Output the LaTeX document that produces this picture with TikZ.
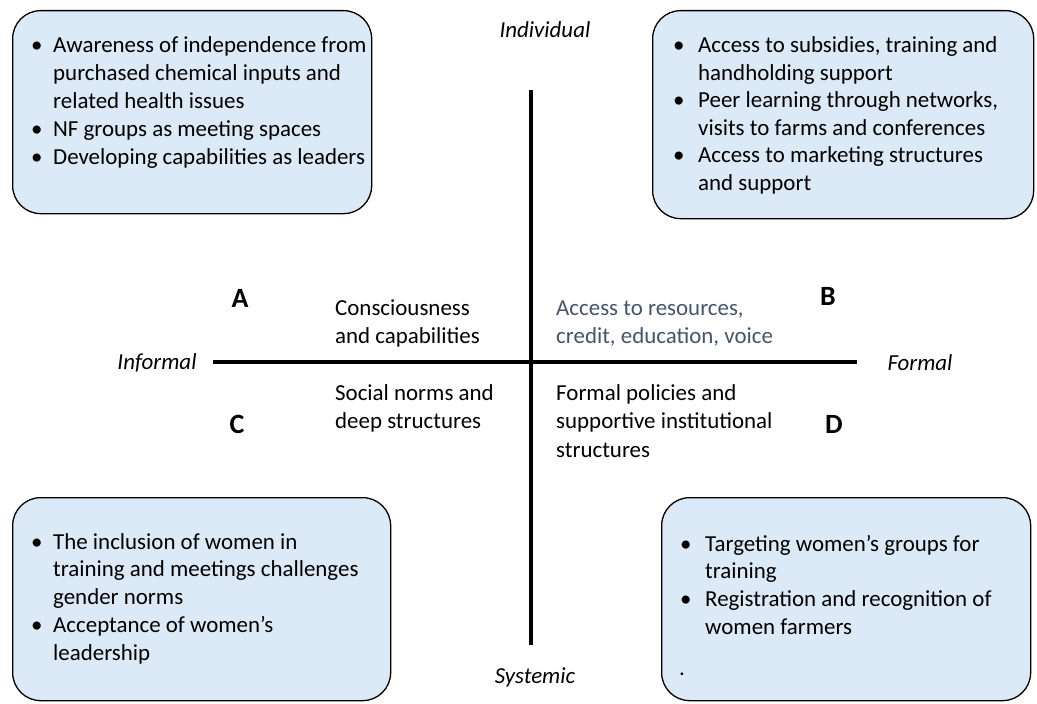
\documentclass[tikz,border=0pt]{standalone}
\usepackage{fontspec}
\setmainfont{Carlito}
\definecolor{boxfill}{HTML}{DCE9F6}
\definecolor{txtblue}{HTML}{44546A}
\newlength\bulw
\newcommand\bl[1]{\makebox[\bulw][l]{•}#1}
\newcommand\cl[1]{\hspace*{\bulw}#1}
\begin{document}
\begin{tikzpicture}[x=1bp,y=-1bp,
  box/.style={draw=black, line width=1.3bp, fill=boxfill, rounded corners=28bp, inner sep=0pt},
  txt/.style={inner sep=0pt, anchor=base west, font=\fontsize{23}{28}\selectfont},
  txtb/.style={inner sep=0pt, anchor=base west, font=\fontsize{23}{27.6}\selectfont},
  mid/.style={inner sep=0pt, anchor=base west, font=\fontsize{23}{29}\selectfont},
  axis/.style={line width=3.5bp},
  axlabel/.style={inner sep=0pt, font=\fontsize{23}{28}\selectfont\itshape},
  quad/.style={inner sep=0pt, font=\fontsize{28}{34}\selectfont\bfseries}]
\useasboundingbox (0,0) rectangle (1037,704);
% boxes
\node[box, minimum width=359bp, minimum height=203bp, anchor=north west] (boxA) at (12,10) {};
\node[box, minimum width=381bp, minimum height=208bp, anchor=north west] (boxB) at (652,10) {};
\node[box, minimum width=378bp, minimum height=203bp, anchor=north west] (boxC) at (12,497) {};
\node[box, minimum width=369bp, minimum height=203bp, anchor=north west] (boxD) at (661,497) {};
% box texts
\node[txt] (tA) at (31,53) {\setlength\bulw{22bp}\begin{tabular}[t]{@{}l@{}}
\bl{Awareness of independence from}\\
\cl{purchased chemical inputs and}\\
\cl{related health issues}\\
\bl{NF groups as meeting spaces}\\
\bl{Developing capabilities as leaders}\end{tabular}};
\node[txtb] (tB) at (673,53) {\setlength\bulw{25bp}\begin{tabular}[t]{@{}l@{}}
\bl{Access to subsidies, training and}\\
\cl{handholding support}\\
\bl{Peer learning through networks,}\\
\cl{visits to farms and conferences}\\
\bl{Access to marketing structures}\\
\cl{and support}\end{tabular}};
\node[txt] (tC) at (31,549) {\setlength\bulw{22bp}\begin{tabular}[t]{@{}l@{}}
\bl{The inclusion of women in}\\
\cl{training and meetings challenges}\\
\cl{gender norms}\\
\bl{Acceptance of women’s}\\
\cl{leadership}\end{tabular}};
\node[txt] (tD) at (680,551) {\setlength\bulw{25bp}\begin{tabular}[t]{@{}l@{}}
\bl{Targeting women’s groups for}\\
\cl{training}\\
\bl{Registration and recognition of}\\
\cl{women farmers}\end{tabular}};
\node[txt] (tDdot) at (679,675) {.};
% axes
\coordinate (vtop) at (531,90);
\coordinate (vbot) at (531,645);
\coordinate (hleft) at (213,362);
\coordinate (hright) at (857,362);
\draw[axis] (vtop) -- (vbot);
\draw[axis] (hleft) -- (hright);
% axis labels
\node[axlabel] (lInd) at (545,30) {Individual};
\node[axlabel] (lSys) at (535,677) {Systemic};
\node[axlabel] (lInf) at (157,363) {Informal};
\node[axlabel] (lFor) at (920,363) {Formal};
% quadrant letters
\node[quad] (qA) at (240,298) {A};
\node[quad] (qB) at (828,296) {B};
\node[quad] (qC) at (237,424) {C};
\node[quad] (qD) at (834,424) {D};
% quadrant texts
\node[mid] (mA) at (335,315) {\begin{tabular}[t]{@{}l@{}}Consciousness\\and capabilities\end{tabular}};
\node[mid, text=txtblue] (mB) at (556,315) {\begin{tabular}[t]{@{}l@{}}Access to resources,\\credit, education, voice\end{tabular}};
\node[mid] (mC) at (335,400) {\begin{tabular}[t]{@{}l@{}}Social norms and\\deep structures\end{tabular}};
\node[mid] (mD) at (556,400) {\begin{tabular}[t]{@{}l@{}}Formal policies and\\supportive institutional\\structures\end{tabular}};
\end{tikzpicture}
\end{document}
